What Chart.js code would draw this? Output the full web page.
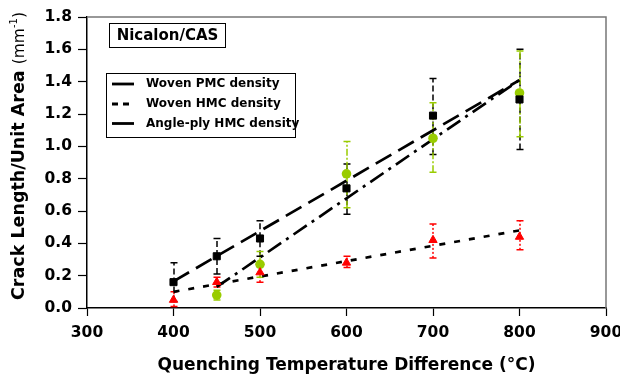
<!DOCTYPE html>
<html>
<head>
<meta charset="utf-8">
<script src="https://cdn.jsdelivr.net/npm/chart.js@4.4.0/dist/chart.umd.min.js"></script>
<style>
	body { margin: 0; background: #fff; }
	#myChart { display: block; }
</style>
</head>
<body>
<canvas id="myChart" width="620" height="376"></canvas>
<script>
// measured points (quenching temperature difference, deg C)
var _temps = [400, 450, 500, 600, 700, 800];
var _angleTemps = [450, 500, 600, 700, 800];

// Woven PMC density
var _pmcValues = [0.16, 0.32, 0.43, 0.74, 1.19, 1.29];
var _pmcLow = [0.04, 0.21, 0.32, 0.58, 0.95, 0.98];
var _pmcHigh = [0.28, 0.43, 0.54, 0.89, 1.42, 1.60];

// Woven HMC density
var _hmcValues = [0.05, 0.16, 0.22, 0.28, 0.42, 0.44];
var _hmcLow = [0.01, 0.13, 0.16, 0.25, 0.31, 0.36];
var _hmcHigh = [0.10, 0.19, 0.28, 0.32, 0.52, 0.54];

// Angle-ply HMC density
var _angleValues = [0.08, 0.27, 0.83, 1.05, 1.33];
var _angleLow = [0.05, 0.19, 0.62, 0.84, 1.06];
var _angleHigh = [0.11, 0.35, 1.03, 1.27, 1.59];

// trend lines (end points)
var _pmcFitTemps = [400, 800];
var _pmcFit = [0.165, 1.41];
var _hmcFitTemps = [400, 800];
var _hmcFit = [0.10, 0.48];
var _angleFitTemps = [450, 800];
var _angleFit = [0.13, 1.41];

var _xTicks = [300, 400, 500, 600, 700, 800, 900];
var _yTicks = [0, 0.2, 0.4, 0.6, 0.8, 1.0, 1.2, 1.4, 1.6, 1.8];

var _labels = ['Woven PMC density', 'Woven HMC density', 'Angle-ply HMC density'];
var _boxTitle = 'Nicalon/CAS';

var FONT = '"DejaVu Sans", "Liberation Sans", sans-serif';
var GREEN = '#99cc00';

function _points(xs, ys) {
	var arr = new Array();
	xs.forEach(function(x, i) {
		arr.push({x: x, y: ys[i]});
	});
	return arr;
}

function _setDatasets() {
	var datasets = new Array();
	datasets.push({
		label: _labels[0],
		data: _points(_temps, _pmcValues),
		showLine: false,
		pointStyle: 'rect',
		pointRadius: 5,
		pointBorderWidth: 1,
		backgroundColor: '#000',
		borderColor: '#000',
		errLow: _pmcLow, errHigh: _pmcHigh, errColor: '#000', errDash: [6, 3]
	});
	datasets.push({
		label: _labels[1],
		data: _points(_temps, _hmcValues),
		showLine: false,
		pointStyle: 'triangle',
		pointRadius: 4.8,
		pointBorderWidth: 1,
		backgroundColor: '#ff0000',
		borderColor: '#ff0000',
		errLow: _hmcLow, errHigh: _hmcHigh, errColor: '#ff0000', errDash: [2, 2]
	});
	datasets.push({
		label: _labels[2],
		data: _points(_angleTemps, _angleValues),
		showLine: false,
		pointStyle: 'circle',
		pointRadius: 4.8,
		pointBorderWidth: 0,
		backgroundColor: GREEN,
		borderColor: GREEN,
		errLow: _angleLow, errHigh: _angleHigh, errColor: GREEN, errDash: [7, 2, 2, 2]
	});
	datasets.push({
		data: _points(_pmcFitTemps, _pmcFit),
		borderColor: '#000', borderWidth: 2.7, borderDash: [18, 8],
		pointRadius: 0, fill: false, tension: 0
	});
	datasets.push({
		data: _points(_hmcFitTemps, _hmcFit),
		borderColor: '#000', borderWidth: 2.7, borderDash: [6, 9],
		pointRadius: 0, fill: false, tension: 0
	});
	datasets.push({
		data: _points(_angleFitTemps, _angleFit),
		borderColor: '#000', borderWidth: 2.7, borderDash: [16, 6, 3, 6],
		pointRadius: 0, fill: false, tension: 0
	});
	return datasets;
}

function _drawErrorBars(chart) {
	var ctx = chart.ctx;
	var xs = chart.scales.x, ys = chart.scales.y;
	chart.data.datasets.forEach(function(ds) {
		if (!ds.errLow) return;
		ctx.save();
		ctx.strokeStyle = ds.errColor;
		ctx.lineWidth = 1.5;
		ds.data.forEach(function(p, i) {
			var px = Math.round(xs.getPixelForValue(p.x));
			var lo = ys.getPixelForValue(ds.errLow[i]);
			var hi = ys.getPixelForValue(ds.errHigh[i]);
			ctx.setLineDash(ds.errDash);
			ctx.beginPath();
			ctx.moveTo(px, lo);
			ctx.lineTo(px, hi);
			ctx.stroke();
			ctx.setLineDash([]);
			ctx.beginPath();
			ctx.moveTo(px - 3.5, lo); ctx.lineTo(px + 3.5, lo);
			ctx.moveTo(px - 3.5, hi); ctx.lineTo(px + 3.5, hi);
			ctx.stroke();
		});
		ctx.restore();
	});
}

function _drawYTitle(ctx, area) {
	var parts = [
		{text: 'Crack Length/Unit Area ', font: 'bold 17.5px ' + FONT, dy: 0},
		{text: '(mm', font: '15.5px ' + FONT, dy: 0},
		{text: '-1', font: '10px ' + FONT, dy: -7},
		{text: ')', font: '15.5px ' + FONT, dy: 0}
	];
	var total = 0;
	parts.forEach(function(p) {
		ctx.font = p.font;
		p.w = ctx.measureText(p.text).width;
		total += p.w;
	});
	ctx.save();
	ctx.translate(24, 156);
	ctx.rotate(-Math.PI / 2);
	ctx.fillStyle = '#000';
	ctx.textBaseline = 'alphabetic';
	var x = -total / 2;
	parts.forEach(function(p) {
		ctx.font = p.font;
		ctx.fillText(p.text, x, p.dy);
		x += p.w;
	});
	ctx.restore();
}

function _drawLegend(ctx) {
	ctx.save();
	ctx.fillStyle = '#fff';
	ctx.fillRect(106, 73, 189, 64);
	ctx.strokeStyle = '#000';
	ctx.lineWidth = 1;
	ctx.strokeRect(106.5, 73.5, 189, 64);

	var rows = [84, 104, 123.5];
	var dashes = [[], [6, 5], []];
	ctx.lineWidth = 2.8;
	ctx.font = 'bold 12px ' + FONT;
	ctx.textBaseline = 'middle';
	ctx.fillStyle = '#000';
	rows.forEach(function(y, i) {
		ctx.setLineDash(dashes[i]);
		ctx.beginPath();
		ctx.moveTo(112, y);
		ctx.lineTo(134, y);
		ctx.stroke();
		ctx.fillText(_labels[i], 146, y);
	});
	ctx.restore();
}

function _drawBoxTitle(ctx) {
	ctx.save();
	ctx.fillStyle = '#fff';
	ctx.fillRect(109, 23, 116, 24);
	ctx.strokeStyle = '#000';
	ctx.lineWidth = 1;
	ctx.strokeRect(109.5, 23.5, 116, 24);
	ctx.font = 'bold 15px ' + FONT;
	ctx.fillStyle = '#000';
	ctx.textAlign = 'center';
	ctx.textBaseline = 'middle';
	ctx.fillText(_boxTitle, 167.5, 36);
	ctx.restore();
}

var _decorPlugin = {
	id: 'decor',
	beforeDatasetsDraw: function(chart) {
		_drawErrorBars(chart);
	},
	afterDraw: function(chart) {
		var ctx = chart.ctx;
		var a = chart.chartArea;
		// top and right frame
		ctx.save();
		ctx.strokeStyle = '#777';
		ctx.lineWidth = 1.5;
		ctx.beginPath();
		ctx.moveTo(a.left, a.top);
		ctx.lineTo(a.right, a.top);
		ctx.lineTo(a.right, a.bottom);
		ctx.stroke();
		ctx.restore();
		_drawBoxTitle(ctx);
		_drawLegend(ctx);
		_drawYTitle(ctx, a);
	}
};

var _config = {
	type: 'line',
	data: {},
	options: {
		responsive: false,
		animation: false,
		devicePixelRatio: 1,
		layout: {
			padding: {left: 0, right: 14, top: 17, bottom: 0}
		},
		plugins: {
			legend: { display: false },
			tooltip: { enabled: false }
		},
		scales: {
			x: {
				type: 'linear',
				min: 300,
				max: 900,
				afterBuildTicks: function(scale) {
					scale.ticks = _xTicks.map(function(v) { return {value: v}; });
				},
				afterFit: function(scale) {
					scale.height = 68;
					scale.paddingLeft = 0;
					scale.paddingRight = 0;
				},
				grid: {
					drawOnChartArea: false,
					tickLength: 8,
					tickColor: '#000',
					tickWidth: 1.2
				},
				border: { color: '#000', width: 1.5 },
				ticks: {
					color: '#000',
					padding: 8,
					maxRotation: 0,
					font: { family: FONT, size: 15.5, weight: 'bold' }
				},
				title: {
					display: true,
					text: 'Quenching Temperature Difference (°C)',
					color: '#000',
					padding: {top: 0, bottom: 0},
					font: { family: FONT, size: 17, weight: 'bold' }
				}
			},
			y: {
				min: 0,
				max: 1.8,
				afterBuildTicks: function(scale) {
					scale.ticks = _yTicks.map(function(v) { return {value: v}; });
				},
				afterFit: function(scale) {
					scale.width = 87;
					scale.paddingTop = 0;
					scale.paddingBottom = 0;
				},
				grid: {
					drawOnChartArea: false,
					tickLength: 9,
					tickColor: '#000',
					tickWidth: 1.2
				},
				border: { color: '#000', width: 1.5 },
				ticks: {
					color: '#000',
					padding: 6,
					font: { family: FONT, size: 15.5, weight: 'bold' },
					callback: function(v) { return Number(v).toFixed(1); }
				}
			}
		}
	},
	plugins: [_decorPlugin]
};

function createChart(id) {
	var ctx = document.getElementById(id);
	_config.data.datasets = _setDatasets();
	return new Chart(ctx, _config);
}

var myChart = createChart('myChart');
</script>
</body>
</html>
